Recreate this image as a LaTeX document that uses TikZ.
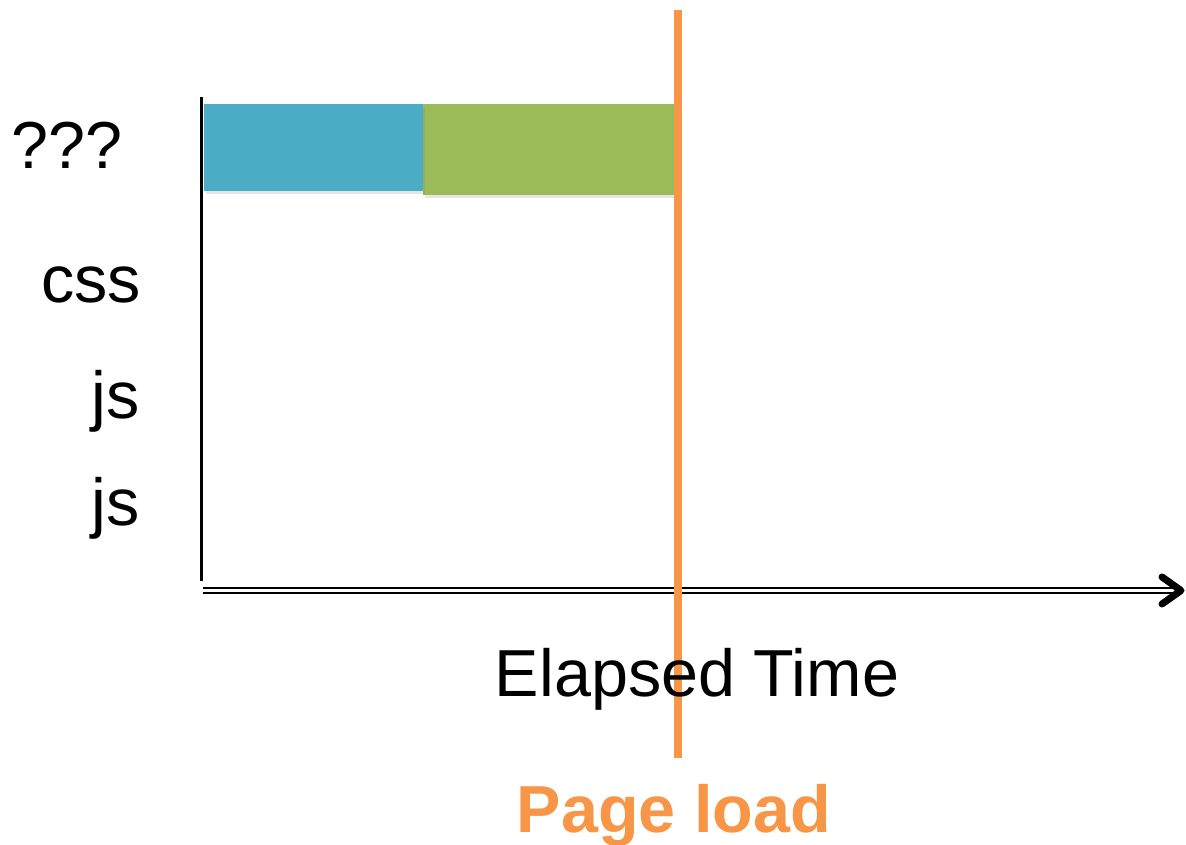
\documentclass[tikz,border=0pt]{standalone}
\usepackage{fontspec}
\setmainfont{Liberation Sans}
\usetikzlibrary{shadows}
\definecolor{barblue}{HTML}{4BACC6}
\definecolor{bargreen}{HTML}{9BBB59}
\definecolor{loadorange}{HTML}{F79646}
\begin{document}
\begin{tikzpicture}[x=1pt,y=-1pt,
  lbl/.style={inner sep=0pt,font=\fontsize{66.5}{70}\selectfont},
  bar/.style={draw=none,drop shadow={shadow xshift=2pt,shadow yshift=-3pt,opacity=0.2}},
  axisline/.style={line width=3pt,black},
  timeaxis/.style={draw=black,double=white,line width=2.6pt,double distance=2.4pt},
  tipline/.style={line width=7pt,line cap=round,line join=round},
  loadline/.style={draw=loadorange,line width=8pt}]
\useasboundingbox (0,0) rectangle (1186,845);
% axes
\coordinate (ytop) at (201,97);
\coordinate (ybot) at (201,581);
\coordinate (origin) at (203,590.5);
\coordinate (xend) at (1178,590.5);
\draw[axisline] (ytop) -- (ybot);
\draw[timeaxis] (origin) -- (xend);
\coordinate (tipa) at (1162,577);
\coordinate (tipb) at (1181,590.5);
\coordinate (tipc) at (1162,604);
\draw[tipline] (tipa) -- (tipb) -- (tipc);
% bars
\path[bar,fill=bargreen] (423,104) rectangle (676,195);
\path[bar,fill=barblue] (204,104) rectangle (423,191);
% page load line
\coordinate (ltop) at (678,10);
\coordinate (lbot) at (678,758);
\draw[loadline] (ltop) -- (lbot);
% labels
\node[lbl,anchor=base west] (q) at (11,169) {???};
\node[lbl,anchor=base east] (css) at (141,302) {css};
\node[lbl,anchor=base east] (js1) at (140,418) {js};
\node[lbl,anchor=base east] (js2) at (140,525) {js};
\node[lbl,anchor=base] (elapsed) at (697,696) {Elapsed Time};
\node[lbl,anchor=base,text=loadorange,font=\fontsize{66.5}{70}\selectfont\bfseries] (pl) at (674,832) {Page load};
\end{tikzpicture}
\end{document}
